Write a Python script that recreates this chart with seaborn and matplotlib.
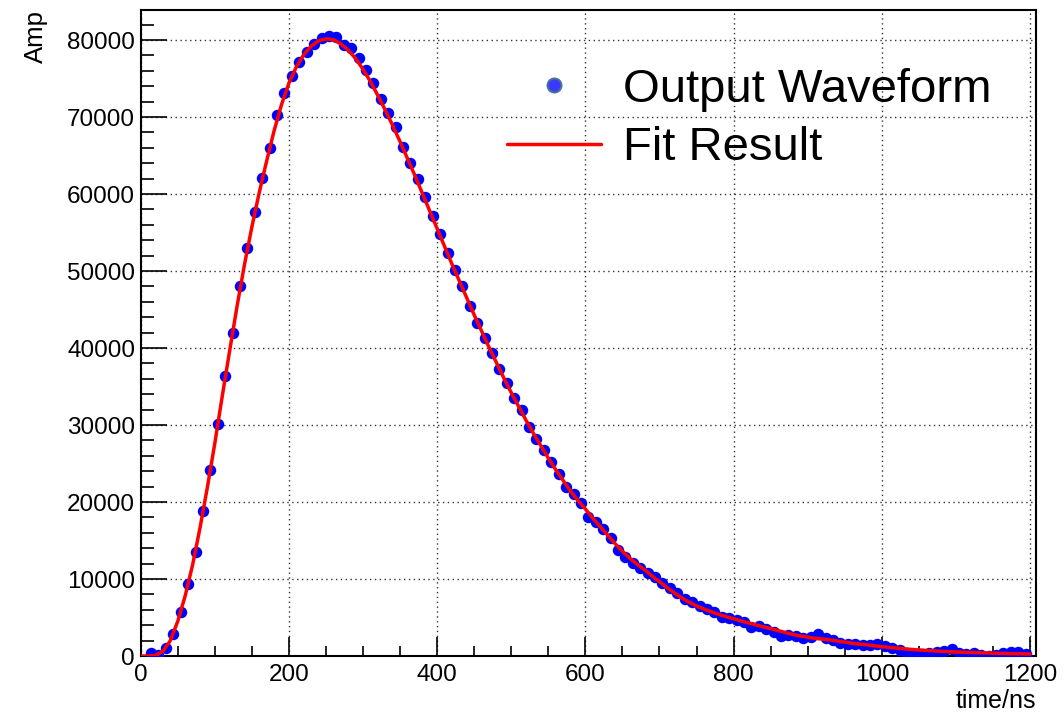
import matplotlib
matplotlib.use("Agg")
import matplotlib.pyplot as plt
from matplotlib.lines import Line2D
from matplotlib.ticker import MultipleLocator
import seaborn as sns
import numpy as np

# sampled waveform (one point every 10 ns)
t_points = np.arange(14, 1200, 10)
amp_points = [430, 130, 1040, 2860, 5760, 9350, 13550, 18830, 24150, 30130,
              36360, 41990, 48050, 52950, 57700, 62040, 65930, 70260, 73070, 75360,
              77180, 78480, 79480, 80200, 80520, 80350, 79350, 78920, 77620, 76100,
              74370, 72290, 70480, 68660, 66060, 64070, 61900, 59570, 57140, 54800,
              52340, 50080, 48050, 45450, 43290, 41260, 39390, 37230, 35410, 33460,
              31950, 29780, 28140, 26750, 25240, 23640, 21990, 21040, 19830, 18090,
              17440, 16450, 15280, 13770, 12900, 12120, 11390, 10820, 10300, 9440,
              8790, 8140, 7360, 7050, 6490, 6060, 5750, 5100, 4890, 4680,
              4450, 3810, 3900, 3470, 3100, 2600, 2750, 2550, 2350, 2500,
              2850, 2400, 2100, 1750, 1580, 1560, 1480, 1450, 1500, 1250,
              1000, 800, 450, 280, 250, 350, 500, 650, 850, 380,
              270, 330, 180, 60, 150, 420, 560, 550, 300]

# fit curve
t_fit = np.arange(0, 1201, 10)
amp_fit = [0, 0, 80, 600, 2000, 4500, 7800, 11800, 16600, 21900,
           27600, 33700, 39600, 45400, 50800, 55700, 60200, 64300, 68200, 71600,
           74400, 76500, 78100, 79200, 79900, 80150, 80050, 79500, 78700, 77600,
           76200, 74600, 72800, 70900, 68900, 66800, 64600, 62400, 60100, 57800,
           55500, 53200, 50900, 48700, 46500, 44300, 42200, 40100, 38100, 36100,
           34200, 32400, 30600, 28900, 27300, 25700, 24200, 22800, 21400, 20200,
           19100, 17900, 16800, 15700, 14600, 13600, 12700, 11900, 11200, 10400,
           9650, 8900, 8200, 7550, 7000, 6500, 6100, 5750, 5400, 5100,
           4850, 4550, 4300, 4050, 3800, 3550, 3300, 3050, 2800, 2600,
           2450, 2300, 2200, 2100, 1950, 1800, 1650, 1550, 1450, 1330,
           1210, 1120, 1030, 940, 860, 790, 720, 670, 620, 570,
           530, 490, 460, 430, 400, 370, 340, 320, 300, 280, 260]

labels = ["Output Waveform", "Fit Result"]

sns.set_theme(style="white")
plt.rcParams['font.family'] = ['Liberation Sans', 'DejaVu Sans']
plt.rcParams['text.color'] = 'black'
plt.rcParams['axes.labelcolor'] = 'black'

fig = plt.figure(figsize=(10.64, 7.14), dpi=100)
ax = fig.add_axes([0.1322, 0.0812, 0.8415, 0.9048])

sns.scatterplot(x=t_points, y=amp_points, ax=ax, color='#0000ff', s=68,
                linewidth=0, legend=False, zorder=3)
sns.lineplot(x=t_fit, y=amp_fit, ax=ax, color='#ff0000', linewidth=2.5,
             legend=False, zorder=4)

ax.set_xlim(0, 1208)
ax.set_ylim(0, 83900)
ax.xaxis.set_major_locator(MultipleLocator(200))
ax.xaxis.set_minor_locator(MultipleLocator(50))
ax.yaxis.set_major_locator(MultipleLocator(10000))
ax.yaxis.set_minor_locator(MultipleLocator(2000))

ax.set_axisbelow(True)
ax.grid(True, which='major', color='#333333', linestyle=(0, (1, 2.5)), linewidth=1.0)

ax.tick_params(axis='x', which='major', direction='in', length=14, width=1.2,
               labelsize=17.5, pad=6, colors='black', bottom=True, top=False)
ax.tick_params(axis='x', which='minor', direction='in', length=7.5, width=1.2,
               colors='black', bottom=True, top=False)
ax.tick_params(axis='y', which='major', direction='in', length=19, width=1.2,
               labelsize=17.5, pad=4, colors='black', left=True, right=False)
ax.tick_params(axis='y', which='minor', direction='in', length=9, width=1.2,
               colors='black', left=True, right=False)

for s in ax.spines.values():
    s.set_color('black')
    s.set_linewidth(1.5)

ax.set_xlabel("time/ns", fontsize=18, loc='right', labelpad=2)
ax.set_ylabel("Amp", fontsize=18.5, loc='top', labelpad=14)

handles = [Line2D([], [], marker='o', linestyle='none', markersize=10,
                  markerfacecolor='#3a3aff', markeredgecolor='#4a6f9f', markeredgewidth=1.5),
           Line2D([], [], color='#ff0000', linewidth=2.5)]
ax.legend(handles, labels, loc='upper left', bbox_to_anchor=(507 / 1064, 1 - 68 / 714),
          bbox_transform=fig.transFigure, frameon=False, fontsize=34,
          handlelength=2.0, handletextpad=0.45, labelspacing=0.3,
          borderpad=0, borderaxespad=0, labelcolor='black')

fig.savefig("out.png", dpi=100)
